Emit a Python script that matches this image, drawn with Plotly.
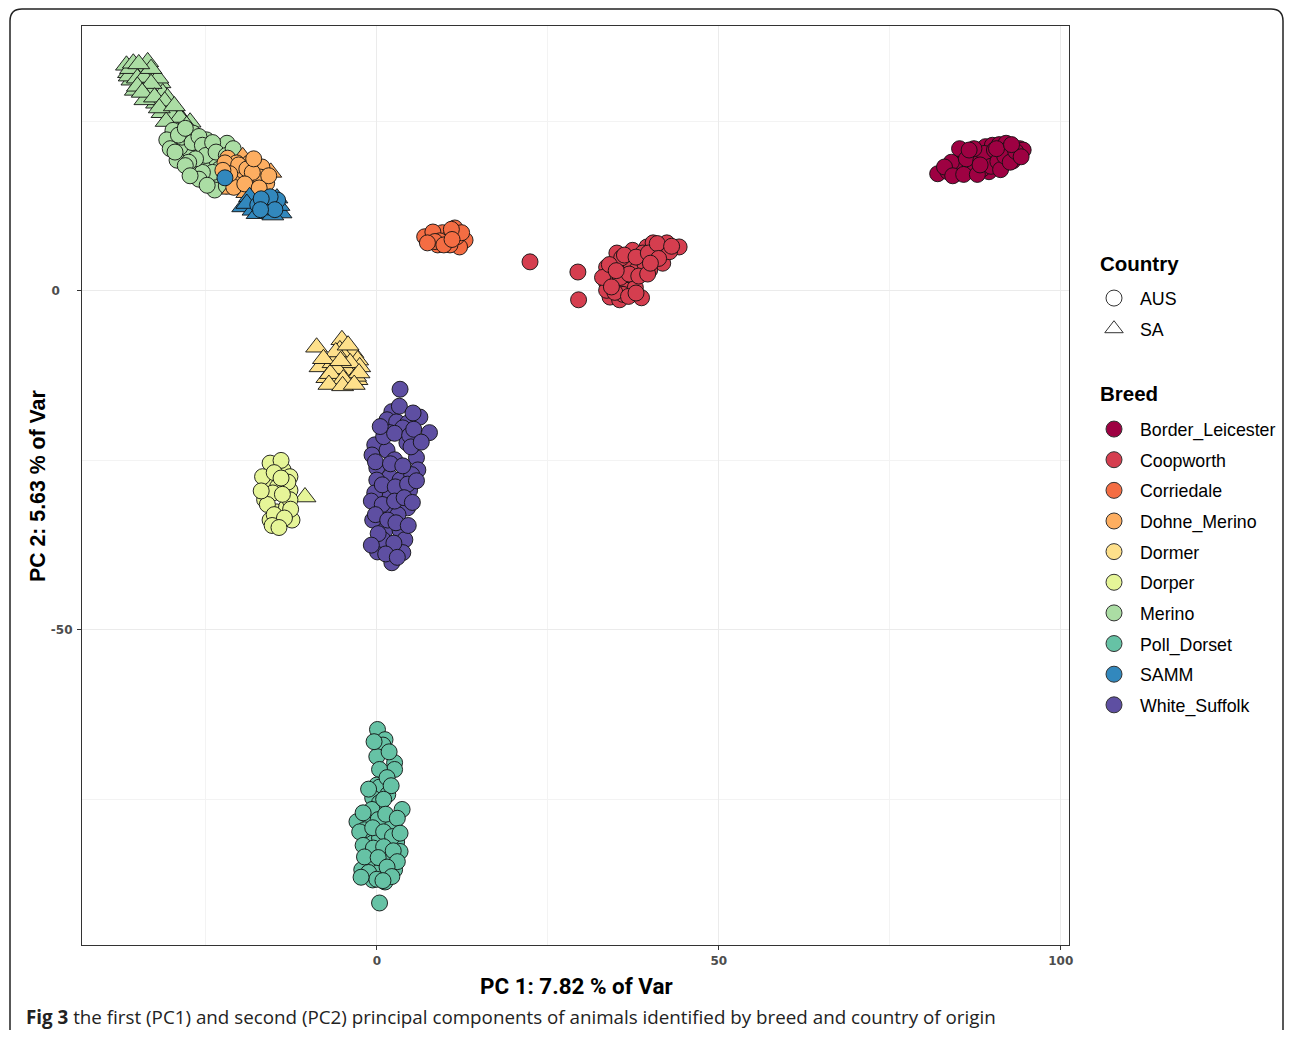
import plotly.graph_objects as go

# ---------------- data (PC1, PC2) ----------------
BREEDS = ["Border_Leicester", "Coopworth", "Corriedale", "Dohne_Merino", "Dormer",
          "Dorper", "Merino", "Poll_Dorset", "SAMM", "White_Suffolk"]
BREED_COLORS = ["#9E0142", "#D53E4F", "#F46D43", "#FDAE61", "#FEE08B",
                "#E6F598", "#ABDDA4", "#66C2A5", "#3288BD", "#5E4FA2"]
COUNTRIES = ["AUS", "SA"]

border_leicester_aus_pc1 = [82.0, 83.5, 84.5, 85.0, 86.0, 86.5, 87.0, 87.5, 88.0, 88.5, 89.0, 89.5, 90.0, 90.5,
                            91.0, 91.5, 92.0, 92.5, 93.0, 93.5, 94.0, 94.5, 85.5, 87.0, 88.0, 89.0, 90.0, 91.0,
                            92.0, 86.0, 84.0, 89.5, 91.5, 93.0, 88.5, 90.5, 87.5, 86.8, 92.3, 89.2, 85.2,
                            83.0, 84.2, 85.8, 86.2, 87.8, 88.3, 88.8, 89.8, 90.3, 90.8, 91.2, 91.8, 92.6, 93.4,
                            94.2, 87.3, 86.6, 90.6, 92.8, 88.2]
border_leicester_aus_pc2 = [17.3, 17.6, 18.2, 17.4, 18.8, 17.8, 19.5, 18.5, 17.6, 19.8, 18.8, 20.5, 19.2, 18.2,
                            20.2, 21.0, 19.6, 20.6, 21.2, 20.0, 21.0, 20.8, 19.0, 20.4, 20.8, 21.3, 21.5, 21.6,
                            21.8, 20.0, 19.0, 17.6, 18.6, 19.2, 18.0, 19.7, 19.1, 18.3, 20.9, 19.9, 21.0,
                            18.3, 17.0, 17.2, 19.5, 17.2, 19.2, 20.3, 18.4, 20.8, 19.1, 17.9, 19.9, 19.0, 20.6,
                            19.8, 21.0, 20.8, 21.0, 21.6, 18.6]

coopworth_aus_pc1 = [22.4, 29.4, 29.5, 44.2, 34.1, 35.5, 38.7, 33.6, 35.1, 37.4, 39.5, 41.4, 41.8, 39.9, 37.4,
                     35.1, 33.6, 36.5, 38.5, 40.4, 42.4, 38.9, 34.4, 36.3, 37.0, 35.8, 40.6, 42.8, 33.6, 38.0,
                     39.2, 36.0, 37.8, 33.0, 34.8, 36.8, 37.9, 34.0, 35.6, 36.9, 38.3, 39.6, 36.2, 37.9,
                     39.7, 41.0, 43.1, 41.2, 40.0, 35.0, 34.3]
coopworth_aus_pc2 = [4.3, 2.8, -1.3, 6.5, -0.9, -1.3, -1.0, 3.5, 5.6, 6.0, 6.5, 6.0, 4.1, 3.1, 1.6,
                     1.2, 1.2, 0.1, 4.6, 7.1, 7.1, 5.6, 2.4, 3.1, 4.3, 4.9, 5.0, 5.8, 0.1, 3.1,
                     4.0, -0.5, 0.5, 2.0, -0.2, -0.8, -0.3, 3.9, 2.0, 2.5, 2.2, 2.5, 5.3, 5.0,
                     5.6, 7.0, 6.6, 4.8, 4.1, 3.0, 0.6]

corriedale_aus_pc1 = [7.7, 9.6, 11.4, 12.9, 12.1, 8.9, 10.2, 7.0, 8.2, 11.7, 10.7, 12.4, 9.2,
                      8.5, 10.9, 9.8, 11.0, 7.4]
corriedale_aus_pc2 = [7.8, 8.6, 9.3, 7.5, 6.5, 6.8, 7.5, 8.0, 8.7, 8.0, 6.8, 8.6, 7.4,
                      7.3, 9.1, 6.8, 7.6, 7.1]

merino_sa_pc1 = [-36.3, -35.4, -34.2, -32.7, -34.6, -31.7, -33.2, -31.3, -32.2, -30.3, -29.2, -31.4, -35.3,
                 -33.9, -28.4, -27.3, -35.8, -30.6, -36.6, -33.5, -32.0, -29.5,
                 -36.2, -36.0, -35.0, -34.0, -33.0, -35.0, -34.3, -32.5, -31.0, -30.0, -28.8, -31.8,
                 -33.0, -29.6, -27.8, -30.8, -35.6, -34.8]
merino_sa_pc2 = [32.2, 32.9, 32.6, 31.9, 30.7, 30.7, 29.6, 29.2, 27.7, 27.1, 26.3, 26.3, 29.6,
                 28.2, 25.2, 24.9, 31.1, 28.5, 33.3, 33.8, 31.4, 24.0,
                 31.7, 32.8, 31.4, 31.5, 30.6, 30.2, 29.3, 28.6, 28.0, 26.0, 25.6, 27.0,
                 32.8, 27.3, 24.4, 25.0, 33.6, 33.5]
merino_aus_pc1 = [-29.8, -27.8, -26.3, -24.9, -27.8, -25.9, -24.4, -23.0, -28.8, -26.9, -24.9, -23.4, -29.2,
                  -26.9, -21.9, -24.4, -22.5, -28.5, -22.7, -23.7, -30.7, -20.8,
                  -30.2, -29.0, -28.0, -27.0, -26.0, -25.5, -25.0, -24.0, -23.5, -22.0, -21.5, -22.0,
                  -23.0, -24.0, -25.5, -26.5, -27.5, -28.0, -29.5, -26.0, -24.8, -27.3, -20.5, -21.0]
merino_aus_pc2 = [23.7, 22.3, 21.2, 22.3, 20.4, 19.8, 20.8, 21.2, 21.2, 18.3, 18.3, 19.3, 19.3,
                  23.3, 21.8, 16.8, 17.8, 22.7, 16.4, 14.9, 22.3, 19.3,
                  21.0, 23.0, 24.0, 21.9, 22.8, 21.5, 20.0, 21.9, 20.5, 20.0, 18.5, 15.5,
                  18.0, 17.5, 17.5, 19.5, 19.0, 18.5, 20.5, 16.5, 15.6, 17.0, 17.2, 21.0]

dohne_merino_sa_pc1 = [-19.6, -21.1, -19.0, -15.5]
dohne_merino_sa_pc2 = [19.8, 15.0, 14.5, 17.5]
dohne_merino_aus_pc1 = [-21.8, -20.5, -18.6, -17.4, -16.4, -20.0, -17.8, -16.1, -18.9, -21.1, -19.6, -22.2,
                        -20.2, -16.8, -20.9, -19.0, -17.0, -18.2, -21.5, -15.8, -19.3, -17.2, -22.5, -18.0]
dohne_merino_aus_pc2 = [19.6, 18.9, 18.9, 17.8, 16.8, 17.1, 15.9, 15.9, 16.8, 18.1, 17.8, 18.9,
                        18.6, 18.3, 15.3, 18.0, 16.8, 17.5, 17.3, 17.0, 15.8, 15.2, 17.8, 19.5]

samm_sa_pc1 = [-19.6, -18.6, -14.5, -14.6, -16.7, -18.1, -14.0, -14.9, -15.9, -17.5, -15.2, -19.0, -14.3, -16.2]
samm_sa_pc2 = [12.4, 13.9, 11.9, 13.7, 11.7, 11.9, 11.5, 12.7, 11.7, 11.4, 11.2, 12.9, 12.6, 12.9]
samm_aus_pc1 = [-22.2, -15.4, -16.4, -14.5, -17.4, -15.9, -15.6, -16.9, -14.9, -17.0]
samm_aus_pc2 = [16.7, 13.1, 13.1, 13.4, 12.7, 12.4, 13.9, 13.6, 12.0, 12.0]

dormer_sa_pc1 = [-8.8, -5.1, -5.4, -3.5, -2.8, -8.3, -6.4, -7.3, -5.4, -3.5, -2.9, -2.5, -4.4, -4.7,
                 -6.0, -7.8, -3.9, -5.9, -3.1, -6.8, -4.2, -2.6, -4.9, -5.3, -7.0, -5.0, -3.3]
dormer_sa_pc2 = [-8.3, -7.2, -8.7, -9.1, -10.2, -11.2, -10.6, -12.8, -12.7, -12.1, -13.1, -11.2, -11.7, -9.7,
                 -9.0, -10.0, -10.6, -11.5, -12.6, -12.2, -8.0, -12.1, -13.0, -10.3, -13.8, -14.0, -13.8]

dorper_sa_pc1 = [-10.5]
dorper_sa_pc2 = [-30.4]
dorper_aus_pc1 = [-15.6, -13.7, -12.7, -16.1, -14.5, -12.7, -16.4, -14.6, -13.2, -14.2, -15.6, -12.4, -16.7,
                  -15.2, -12.7, -14.0, -15.0, -13.0, -16.0, -13.8, -12.6, -15.0, -14.0, -16.9, -13.5,
                  -15.3, -14.3]
dorper_aus_pc2 = [-25.4, -26.4, -27.4, -28.3, -28.9, -29.4, -30.8, -32.6, -31.9, -34.2, -33.8, -33.8, -27.4,
                  -29.8, -30.8, -25.0, -26.8, -28.2, -31.5, -30.0, -32.2, -33.0, -27.6, -29.5, -33.5,
                  -34.6, -34.9]

white_suffolk_aus_pc1 = [3.4, 2.2, 1.5, 2.9, 4.5, 6.3, 7.7, 3.8, 1.9, -0.3, -0.7, 1.5, 4.4, 5.8, 6.0, 0.0,
                         1.9, 3.4, 1.5, 3.4, 4.8, 1.9, -0.6, 1.2, 3.4, 4.1, 0.1, 2.2, 3.8, 0.0, 4.5, -0.3,
                         0.9, 2.6, 5.1, 3.1,
                         1.0, 2.6, 4.8, -0.2, 2.0, 3.8, 5.0, 0.8, 2.7, 4.5, 5.8, -0.8, 0.8, 2.6, 4.0, 5.2,
                         -0.2, 1.6, 2.8, 4.6, 0.2, 2.5, 1.3, 3.0, -0.8, 3.3, 5.3, 0.5, 5.4, 6.5]
white_suffolk_aus_pc2 = [-14.5, -17.8, -19.0, -19.3, -19.5, -18.6, -20.9, -20.2, -20.9, -22.7, -24.2, -23.5,
                         -22.4, -24.6, -26.4, -26.1, -27.4, -27.9, -29.4, -30.1, -29.4, -31.9, -33.8, -35.3,
                         -35.3, -36.7, -38.5, -40.1, -38.6, -27.9, -32.0, -29.8, -36.7, -24.9, -27.1, -33.0,
                         -21.5, -21.0, -21.3, -25.2, -25.5, -25.8, -23.0, -28.6, -28.9, -28.5, -28.0, -31.0,
                         -31.5, -31.0, -30.5, -31.2, -33.0, -33.8, -34.2, -34.6, -35.8, -37.2, -38.8, -39.3,
                         -37.5, -17.0, -18.0, -20.0, -20.4, -22.3]

poll_dorset_aus_pc1 = [0.1, 1.2, 0.9, 0.0, 2.6, 2.6, 0.4, 0.0, 0.4, -0.6, 0.4, 3.7, -2.9, -1.0, 2.2, -1.5,
                       0.4, 2.9, 3.4, -1.0, -2.2, 0.4, 2.6, -0.6, 1.2, 0.4, -0.7, 1.6, -0.3, 1.9, -1.8,
                       1.8, -0.4, 1.5, -1.2, 2.1, 1.0, -2.0, 0.2, 1.3, 3.0, -2.5, -0.6, 1.0, 2.3, -2.0,
                       -0.5, 1.0, 2.4, -1.8, 0.2, 3.0, -1.2, 1.5, 0.0, 2.2, -2.3, 0.9, 3.4]
poll_dorset_aus_pc2 = [-64.7, -66.2, -67.0, -68.7, -69.6, -70.6, -70.6, -72.9, -73.2, -74.8, -75.5, -76.5,
                       -78.3, -77.7, -78.8, -80.7, -80.7, -81.3, -82.7, -84.2, -85.4, -85.7, -85.4, -86.9,
                       -87.2, -90.3, -76.5, -74.3, -82.4, -83.9, -79.5,
                       -68.0, -66.5, -71.8, -73.5, -73.0, -75.0, -77.0, -78.0, -77.2, -77.8, -79.8, -79.2,
                       -79.8, -80.5, -81.8, -82.2, -82.0, -82.6, -83.5, -83.6, -84.2, -85.8, -85.0, -86.8,
                       -86.4, -86.5, -87.0, -80.0]

# drawing order: (breed, country, pc1, pc2)
GROUPS = [
    ("Border_Leicester", "AUS", border_leicester_aus_pc1, border_leicester_aus_pc2),
    ("Coopworth", "AUS", coopworth_aus_pc1, coopworth_aus_pc2),
    ("Corriedale", "AUS", corriedale_aus_pc1, corriedale_aus_pc2),
    ("Merino", "SA", merino_sa_pc1, merino_sa_pc2),
    ("Merino", "AUS", merino_aus_pc1, merino_aus_pc2),
    ("Dohne_Merino", "SA", dohne_merino_sa_pc1, dohne_merino_sa_pc2),
    ("Dohne_Merino", "AUS", dohne_merino_aus_pc1, dohne_merino_aus_pc2),
    ("SAMM", "SA", samm_sa_pc1, samm_sa_pc2),
    ("SAMM", "AUS", samm_aus_pc1, samm_aus_pc2),
    ("Dormer", "SA", dormer_sa_pc1, dormer_sa_pc2),
    ("Dorper", "SA", dorper_sa_pc1, dorper_sa_pc2),
    ("Dorper", "AUS", dorper_aus_pc1, dorper_aus_pc2),
    ("White_Suffolk", "AUS", white_suffolk_aus_pc1, white_suffolk_aus_pc2),
    ("Poll_Dorset", "AUS", poll_dorset_aus_pc1, poll_dorset_aus_pc2),
]

X_TICKS = [0, 50, 100]
X_TICK_TEXT = ["0", "50", "100"]
Y_TICKS = [-50, 0]
Y_TICK_TEXT = ["-50", "0&nbsp;&nbsp;&nbsp;"]

# ---------------- figure ----------------
# the page body has an 8px margin, so the figure is drawn 8px in from the window corner
OFF = 8
W, H = 1277, 1022
SX0, SX1, SY0, SY1 = 82, 1069, 26, 945           # plot area in window pixels
L, R, T, B = SX0 - OFF, W - (SX1 - OFF), SY0 - OFF, H - (SY1 - OFF)
PW, PH = SX1 - SX0, SY1 - SY0

def px_x(p):
    return (p - SX0) / PW

def px_y(p):
    return (SY1 - p) / PH

color_of = dict(zip(BREEDS, BREED_COLORS))
symbol_of = {"AUS": "circle", "SA": "triangle-up"}
size_of = {"AUS": 16, "SA": 19}

fig = go.Figure()
for breed, country, xs, ys in GROUPS:
    fig.add_trace(go.Scatter(
        x=xs, y=ys, mode="markers", showlegend=False, hoverinfo="skip",
        marker=dict(symbol=symbol_of[country], size=size_of[country], color=color_of[breed],
                    line=dict(color="#111111", width=0.9)),
    ))

# legend: Country
for c in COUNTRIES:
    fig.add_trace(go.Scatter(
        x=[None], y=[None], mode="markers", name=c, legend="legend", legendgroup=c,
        marker=dict(symbol=symbol_of[c], size=16, color="white", line=dict(color="#333333", width=1)),
    ))
# legend: Breed
for b in BREEDS:
    fig.add_trace(go.Scatter(
        x=[None], y=[None], mode="markers", name=b, legend="legend2", legendgroup=b,
        marker=dict(symbol="circle", size=16, color=color_of[b], line=dict(color="#333333", width=1)),
    ))

tick_font = dict(family="DejaVu Sans, sans-serif", size=12, color="#4D4D4D", weight="bold")
legend_font = dict(family="Liberation Sans, Arial, sans-serif", size=17.8, color="#000000")
legend_title_font = dict(family="Liberation Sans, Arial, sans-serif", size=20.5, color="#000000", weight="bold")

fig.update_layout(
    width=W, height=H,
    margin=dict(l=L, r=R, t=T, b=B, autoexpand=False),
    paper_bgcolor="white", plot_bgcolor="white",
    xaxis=dict(
        range=[-43.1, 101.2], tickvals=X_TICKS, ticktext=X_TICK_TEXT,
        showgrid=True, gridcolor="#EBEBEB", gridwidth=1.3, zeroline=False,
        minor=dict(tickvals=[-25, 25, 75], showgrid=True, gridcolor="#F3F3F3", gridwidth=0.8, ticks=""),
        showline=True, linecolor="#333333", linewidth=1.2, mirror=True,
        ticks="outside", ticklen=4, tickcolor="#333333", tickwidth=1,
        tickfont=tick_font,
    ),
    yaxis=dict(
        range=[-96.5, 39.1], tickvals=Y_TICKS, ticktext=Y_TICK_TEXT,
        showgrid=True, gridcolor="#EBEBEB", gridwidth=1.3, zeroline=False,
        minor=dict(tickvals=[-75, -25, 25], showgrid=True, gridcolor="#F3F3F3", gridwidth=0.8, ticks=""),
        showline=True, linecolor="#333333", linewidth=1.2, mirror=True,
        ticks="outside", ticklen=4, tickcolor="#333333", tickwidth=1,
        tickfont=tick_font, ticklabelstandoff=2,
    ),
    legend=dict(
        font=legend_font, x=px_x(1088), y=px_y(280), xanchor="left", yanchor="top",
        bgcolor="rgba(0,0,0,0)", traceorder="grouped", tracegroupgap=4.5, itemsizing="trace",
        itemwidth=42,
    ),
    legend2=dict(
        font=legend_font, x=px_x(1088), y=px_y(411), xanchor="left", yanchor="top",
        bgcolor="rgba(0,0,0,0)", traceorder="grouped", tracegroupgap=4.5, itemsizing="trace",
        itemwidth=42,
    ),
)

# axis titles
fig.add_annotation(
    text="<b>PC 1: 7.82 % of Var</b>", xref="paper", yref="paper",
    x=px_x(576), y=px_y(986), xanchor="center", yanchor="middle", showarrow=False,
    font=dict(family="Roboto, Liberation Sans, sans-serif", size=22.4, color="#000000"),
)
fig.add_annotation(
    text="<b>PC 2: 5.63 % of Var</b>", xref="paper", yref="paper", textangle=-90,
    x=px_x(38), y=px_y(486), xanchor="center", yanchor="middle", showarrow=False,
    font=dict(family="Liberation Sans, Arial, sans-serif", size=21.3, color="#000000"),
)
# legend titles
fig.add_annotation(
    text="<b>Country</b>", xref="paper", yref="paper", x=px_x(1098), y=px_y(263),
    xanchor="left", yanchor="middle", showarrow=False, font=legend_title_font,
)
fig.add_annotation(
    text="<b>Breed</b>", xref="paper", yref="paper", x=px_x(1098), y=px_y(394),
    xanchor="left", yanchor="middle", showarrow=False, font=legend_title_font,
)

# caption
fig.add_annotation(
    text="<b>Fig 3</b> the first (PC1) and second (PC2) principal components of animals identified by breed and country of origin",
    xref="paper", yref="paper", x=px_x(24), y=px_y(1017), xanchor="left", yanchor="middle",
    showarrow=False, font=dict(family="Open Sans, sans-serif", size=18.8, color="#222222"),
)

# outer rounded frame of the figure panel (its bottom edge lies below the visible page)
x0, x1 = px_x(10), px_x(1283)
y0, y1 = px_y(1042), px_y(9)
rx, ry = 12 / PW, 12 / PH
path = (f"M {x0+rx},{y1} L {x1-rx},{y1} Q {x1},{y1} {x1},{y1-ry} "
        f"L {x1},{y0+ry} Q {x1},{y0} {x1-rx},{y0} L {x0+rx},{y0} Q {x0},{y0} {x0},{y0+ry} "
        f"L {x0},{y1-ry} Q {x0},{y1} {x0+rx},{y1} Z")
fig.add_shape(type="path", path=path, xref="paper", yref="paper",
              line=dict(color="#222222", width=1.5), layer="below")

fig.write_html("out.html")
